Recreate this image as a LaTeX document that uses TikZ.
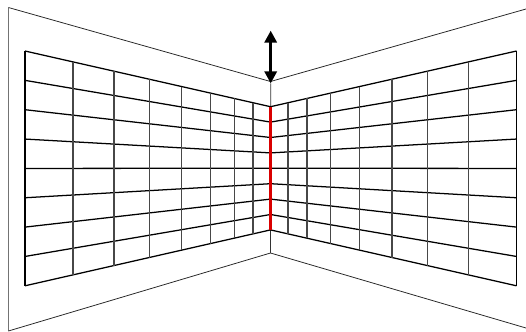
\documentclass[tikz,border=0pt]{standalone}
\usetikzlibrary{calc,arrows.meta}
\tikzset{
  wallline/.style={
    line width=0.55pt,
    black!85
  },
  wallpost/.style={
    line width=0.8pt,
    black!55
  },
  gridrow/.style={
    line width=0.9pt,
    black
  },
  gridcol/.style={
    line width=0.9pt,
    black!72
  },
  seam/.style={
    line width=0.6pt,
    black!80
  },
  redseam/.style={
    line width=1.8pt,
    red!85!black
  },
  shiftarrow/.style={
    line width=1.9pt,
    {Triangle[width=8.7pt,length=8.5pt]}-{Triangle[width=8.7pt,length=8.5pt]}
  }
}
\begin{document}
\begin{tikzpicture}[x=0.025cm,y=-0.025cm]
  \useasboundingbox (0,0) rectangle (526,331);
  % room outline
  \coordinate (ltop) at (8.4,7.5);
  \coordinate (lbot) at (8.4,331);
  \coordinate (rtop) at (526,9);
  \coordinate (rbot) at (526,328);
  \coordinate (ktop) at (270.5,81.5);
  \coordinate (kbot) at (270.5,253);
  \coordinate (atop) at (270.7,30.7);
  \coordinate (abot) at (270.7,83.3);
  \draw[wallpost] (lbot) -- (ltop);
  \draw[wallline] (ltop) -- (ktop) -- (rtop);
  \draw[wallline] (lbot) -- (kbot) -- (rbot);
  \draw[seam] (abot) -- (kbot);
  % grid rows
  \foreach \i in {0,...,8}{
      \coordinate (l\i) at (25,{51+29.35*\i});
      \coordinate (c\i) at (270.5,{106.7+15.4*\i});
      \coordinate (r\i) at (516.5,{51+29.35*\i});
      \draw[gridrow] (l\i) -- (c\i) -- (r\i);
    }
  % grid columns
  \foreach \t in {0.195,0.362,0.506,0.638,0.755,0.852,0.929}{
      \draw[gridcol] ($(l0)!\t!(c0)$) -- ($(l8)!\t!(c8)$);
      \draw[gridcol] ($(r0)!\t!(c0)$) -- ($(r8)!\t!(c8)$);
    }
  \draw[gridrow] (l0) -- (l8);
  \draw[gridrow] (r0) -- (r8);
  \draw[redseam] (c0) -- (c8);
  \draw[shiftarrow] (atop) -- (abot);
\end{tikzpicture}
\end{document}
